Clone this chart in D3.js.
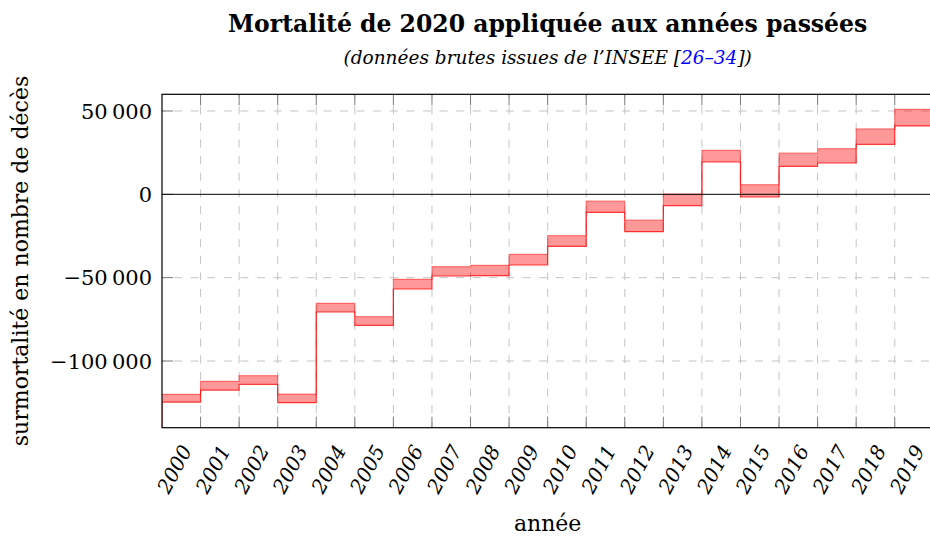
<!DOCTYPE html>
<html>
<head>
<meta charset="utf-8">
<script src="https://cdn.jsdelivr.net/npm/d3@7"></script>
<style>
  body { margin: 0; background: #fff; }
  svg { display: block; font-family: "DejaVu Serif", "Liberation Serif", serif; }
</style>
</head>
<body>
<div id="graph"></div>
<script>
// valeurs (bornes haute et basse de la surmortalité)
var years = [2000, 2001, 2002, 2003, 2004, 2005, 2006, 2007, 2008, 2009,
             2010, 2011, 2012, 2013, 2014, 2015, 2016, 2017, 2018, 2019]
var upperVals = [-120000, -112200, -108800, -119800, -65400, -73400, -51000, -43400, -42600, -36000,
                 -24800, -4000, -15400, 200, 26400, 5800, 24800, 27400, 39200, 51000]
var lowerVals = [-124600, -117400, -114000, -125000, -70600, -78600, -56800, -49000, -48800, -42400,
                 -31200, -10800, -22400, -6800, 19400, -1600, 16800, 18800, 30000, 41000]
var yTicks = [-100000, -50000, 0, 50000]
var xDomain = [1999, 2019]
var yDomain = [-140000, 60000]

var W = 930, H = 538
var margin = { top: 94.3, left: 162, right: -3.3, bottom: 110.3 }
var width = W - margin.left - margin.right
var height = H - margin.top - margin.bottom
var cx = margin.left + width / 2

var svg = d3.select("#graph").append("svg")
    .attr("width", W)
    .attr("height", H)

var x = d3.scaleLinear().domain(xDomain).range([margin.left, margin.left + width])
var y = d3.scaleLinear().domain(yDomain).range([margin.top + height, margin.top])

var fmt = d3.formatLocale({ decimal: ".", thousands: "\u2009", grouping: [3], currency: ["", ""], minus: "\u2212" }).format(",d")

svg.append("defs").append("clipPath")
    .attr("id", "clip")
    .append("rect")
    .attr("x", margin.left)
    .attr("y", margin.top)
    .attr("width", width)
    .attr("height", height)

// grille pointillée
var grid = svg.append("g").attr("class", "grid")
grid.selectAll(".vgrid")
    .data(years)
    .enter()
    .append("line")
    .attr("x1", d => x(d)).attr("x2", d => x(d))
    .attr("y1", margin.top).attr("y2", margin.top + height)
    .attr("stroke", "#c4c4c4")
    .attr("stroke-width", 1)
    .attr("stroke-dasharray", "8,8.6")
    .attr("stroke-dashoffset", -12)
grid.selectAll(".hgrid")
    .data(yTicks.filter(d => d != 0))
    .enter()
    .append("line")
    .attr("x1", margin.left).attr("x2", margin.left + width)
    .attr("y1", d => y(d)).attr("y2", d => y(d))
    .attr("stroke", "#c4c4c4")
    .attr("stroke-width", 1)
    .attr("stroke-dasharray", "8,8.6")
    .attr("stroke-dashoffset", -12)

// ticks internes
var ticks = svg.append("g").attr("class", "ticks").attr("stroke", "#7a7a7a").attr("stroke-width", 1)
years.forEach(function (yr) {
    ticks.append("line").attr("x1", x(yr)).attr("x2", x(yr)).attr("y1", margin.top).attr("y2", margin.top + 11)
    ticks.append("line").attr("x1", x(yr)).attr("x2", x(yr)).attr("y1", margin.top + height).attr("y2", margin.top + height - 11)
})
yTicks.forEach(function (v) {
    ticks.append("line").attr("x1", margin.left).attr("x2", margin.left + 11).attr("y1", y(v)).attr("y2", y(v))
})

// bande de surmortalité (marches : la valeur d'une année couvre [année-1, année])
var stepData = [{ year: xDomain[0], up: upperVals[0], low: lowerVals[0] }]
years.forEach(function (yr, i) {
    stepData.push({ year: yr, up: upperVals[i], low: lowerVals[i] })
})

var plot = svg.append("g").attr("clip-path", "url(#clip)")

var area = d3.area()
    .curve(d3.curveStepBefore)
    .x(d => x(d.year))
    .y0(d => y(d.low))
    .y1(d => y(d.up))

plot.append("path")
    .datum(stepData)
    .attr("d", area)
    .attr("fill", "red")
    .attr("fill-opacity", 0.4)

var upperLine = d3.line().curve(d3.curveStepBefore).x(d => x(d.year)).y(d => y(d.up))
var lowerLine = d3.line().curve(d3.curveStepBefore).x(d => x(d.year)).y(d => y(d.low))

plot.append("path")
    .datum(stepData)
    .attr("d", upperLine)
    .attr("fill", "none")
    .attr("stroke", "red")
    .attr("stroke-opacity", 0.45)
    .attr("stroke-width", 1.2)

var lowData = [{ year: xDomain[0], low: yDomain[0] }].concat(stepData.slice(1))
plot.append("path")
    .datum(lowData)
    .attr("d", lowerLine)
    .attr("fill", "none")
    .attr("stroke", "red")
    .attr("stroke-opacity", 0.75)
    .attr("stroke-width", 1.2)

// axe zéro
svg.append("line")
    .attr("x1", margin.left).attr("x2", margin.left + width)
    .attr("y1", y(0)).attr("y2", y(0))
    .attr("stroke", "black")
    .attr("stroke-width", 1)

// cadre
svg.append("rect")
    .attr("x", margin.left)
    .attr("y", margin.top)
    .attr("width", width)
    .attr("height", height)
    .attr("fill", "none")
    .attr("stroke", "black")
    .attr("stroke-width", 1.2)

// étiquettes axe y
svg.selectAll(".ylab")
    .data(yTicks)
    .enter()
    .append("text")
    .attr("x", margin.left - 10)
    .attr("y", d => y(d))
    .attr("dy", "0.36em")
    .attr("text-anchor", "end")
    .style("font-size", "21px")
    .text(d => fmt(d))

// étiquettes axe x
svg.selectAll(".xlab")
    .data(years)
    .enter()
    .append("text")
    .attr("transform", d => "translate(" + (x(d) - 8) + "," + 450 + ") rotate(-62)")
    .attr("text-anchor", "end")
    .style("font-size", "20px")
    .style("font-style", "italic")
    .text(d => d)

// titres
svg.append("text")
    .attr("x", cx)
    .attr("y", 32)
    .attr("text-anchor", "middle")
    .style("font-size", "23.5px")
    .style("font-weight", "bold")
    .text("Mortalité de 2020 appliquée aux années passées")

var sub = svg.append("text")
    .attr("x", cx)
    .attr("y", 64)
    .attr("text-anchor", "middle")
    .style("font-size", "18.5px")
    .style("font-style", "italic")
sub.append("tspan").text("(données brutes issues de l’INSEE [")
sub.append("tspan").attr("fill", "blue").text("26–34")
sub.append("tspan").text("])")

svg.append("text")
    .attr("x", cx)
    .attr("y", 531)
    .attr("text-anchor", "middle")
    .style("font-size", "22px")
    .text("année")

svg.append("text")
    .attr("transform", "translate(28," + 261 + ") rotate(-90)")
    .attr("text-anchor", "middle")
    .style("font-size", "22px")
    .text("surmortalité en nombre de décès")
</script>
</body>
</html>
